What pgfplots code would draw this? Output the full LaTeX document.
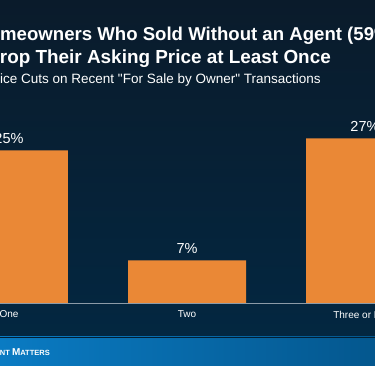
\documentclass[border=0pt]{standalone}
\usepackage{pgfplots}
\pgfplotsset{compat=1.18}
\usepackage{fontspec}
\setmainfont{Liberation Sans}
\definecolor{bgtop}{HTML}{0A1B2B}
\definecolor{bgbot}{HTML}{032741}
\definecolor{barorange}{HTML}{EA8836}
\definecolor{bandleft}{HTML}{0A7BC3}
\definecolor{bandright}{HTML}{04578E}
\definecolor{baseline}{HTML}{8C9BA8}
\begin{document}
\begin{tikzpicture}[x=1pt,y=1pt]
\path[use as bounding box] (0,0) rectangle (375,366);
\clip (0,0) rectangle (375,366);
\shade[top color=bgtop, bottom color=bgbot] (0,29) rectangle (375,366);
\shade[left color=bandleft, right color=bandright] (0,0) rectangle (375,29);
\draw[draw=bgbot!80!black, line width=0.8pt] (0,29) -- (375,29);
\node[anchor=base west, inner sep=0, text=white, font=\fontsize{18.6}{20}\bfseries\selectfont] at (-24.8,325) {Homeowners Who Sold Without an Agent (59\%)};
\node[anchor=base east, inner sep=0, text=white, font=\fontsize{18.9}{20}\bfseries\selectfont] at (331,302) {Drop Their Asking Price at Least Once};
\node[anchor=base west, inner sep=0, text=white, font=\fontsize{13.5}{15}\selectfont] at (-13.5,282) {Price Cuts on Recent \textquotedbl For Sale by Owner\textquotedbl\ Transactions};
\node[anchor=base east, inner sep=0, text=white, font=\bfseries] at (50,10) {{\fontsize{10}{10}\selectfont K}{\fontsize{7.5}{7.5}\selectfont EEPING }{\fontsize{10}{10}\selectfont C}{\fontsize{7.5}{7.5}\selectfont URRENT }{\fontsize{10}{10}\selectfont M}{\fontsize{7.5}{7.5}\selectfont ATTERS}};
\begin{axis}[
  at={(0pt,63pt)}, anchor=south west,
  scale only axis, width=375pt, height=303pt,
  xmin=0, xmax=375, ymin=0, ymax=49.67,
  axis x line=bottom, axis y line=none,
  x axis line style={draw=baseline, line width=0.8pt, -},
  xtick=data, xticklabels={One,Two,Three or More},
  xtick style={draw=none},
  ytick=\empty,
  xticklabel style={text=white, font=\fontsize{10}{12}\selectfont},
  ybar, bar width=118pt,
  nodes near coords={\pgfmathprintnumber[assume math mode=true]{\pgfplotspointmeta}\%},
  every node near coord/.append style={text=white, font=\fontsize{14.5}{16}\selectfont, anchor=base, yshift=7pt},
  clip=false,
]
\addplot[fill=barorange, draw=none] coordinates {(9,25) (187,7) (365,27)};
\end{axis}
\end{tikzpicture}
\end{document}
